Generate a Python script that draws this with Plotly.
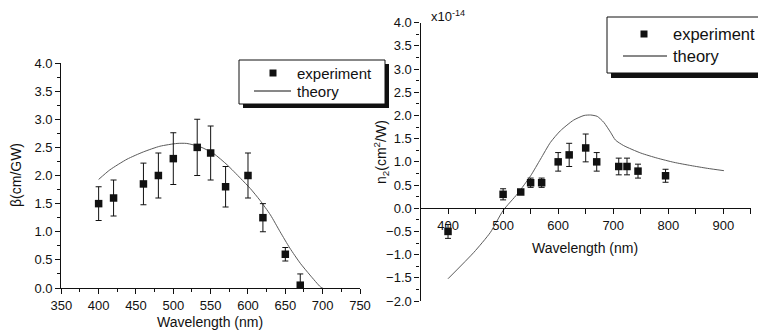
import plotly.graph_objects as go

# ---------------- data ----------------
# Left panel: nonlinear absorption beta (cm/GW)
beta_wl = [400, 420, 460, 480, 500, 532, 550, 570, 600, 620, 650, 670]
beta_val = [1.5, 1.6, 1.85, 2.0, 2.3, 2.5, 2.4, 1.8, 2.0, 1.25, 0.6, 0.05]
beta_err_plus = [0.3, 0.32, 0.37, 0.4, 0.46, 0.5, 0.48, 0.36, 0.4, 0.25, 0.12, 0.2]
beta_err_minus = [0.3, 0.32, 0.37, 0.4, 0.46, 0.5, 0.48, 0.36, 0.4, 0.25, 0.12, 0.05]

beta_th_wl = [400, 415, 438, 460, 482, 505, 518, 536, 554, 572, 590, 603, 616, 630, 643, 656, 670, 683, 697, 700]
beta_th_val = [1.93, 2.10, 2.29, 2.42, 2.52, 2.57, 2.57, 2.51, 2.39, 2.19, 1.95, 1.77, 1.56, 1.30, 1.0, 0.71, 0.44, 0.23, 0.02, 0.0]

# Right panel: nonlinear refraction n2 (x1e-14 cm^2/W)
n2_wl = [400, 500, 532, 550, 570, 600, 620, 650, 670, 710, 725, 745, 795]
n2_val = [-0.5, 0.3, 0.35, 0.55, 0.55, 1.0, 1.15, 1.3, 1.0, 0.9, 0.9, 0.8, 0.7]
n2_err = [0.15, 0.12, 0.05, 0.1, 0.1, 0.2, 0.25, 0.3, 0.2, 0.18, 0.18, 0.15, 0.14]

n2_th_wl = [400, 447, 477, 500, 526, 550, 568, 586, 604, 628, 647, 659, 671, 683, 695, 704, 719, 750, 780, 810, 841, 871, 901]
n2_th_val = [-1.52, -0.95, -0.52, -0.05, 0.31, 0.70, 1.06, 1.42, 1.67, 1.90, 2.0, 2.01, 1.98, 1.85, 1.64, 1.47, 1.35, 1.19, 1.08, 0.99, 0.92, 0.86, 0.81]

legend_labels = ["experiment", "theory"]

# ---------------- figure ----------------
PAGE_W, PAGE_H = 766, 330
OFF = 8                       # default body margin of the html page
W, H = PAGE_W - OFF, PAGE_H - OFF
FONT = "Liberation Sans, Arial, sans-serif"
INK = "#111111"


def px(x):
    """page pixel x -> paper fraction"""
    return (x - OFF) / W


def py(y):
    """page pixel y (from top) -> paper fraction"""
    return 1 - (y - OFF) / H


fig = go.Figure()

fig.add_trace(go.Scatter(
    x=beta_th_wl, y=beta_th_val, mode="lines",
    line=dict(color="#5a5a5a", width=1, shape="spline", smoothing=0.6),
    xaxis="x", yaxis="y", showlegend=False))
fig.add_trace(go.Scatter(
    x=beta_wl, y=beta_val, mode="markers",
    marker=dict(symbol="square", size=7.5, color=INK),
    error_y=dict(type="data", array=beta_err_plus, arrayminus=beta_err_minus,
                 color=INK, thickness=1, width=3),
    cliponaxis=False, xaxis="x", yaxis="y", showlegend=False))

fig.add_trace(go.Scatter(
    x=n2_th_wl, y=n2_th_val, mode="lines",
    line=dict(color="#5a5a5a", width=1, shape="spline", smoothing=0.6),
    xaxis="x2", yaxis="y2", showlegend=False))
fig.add_trace(go.Scatter(
    x=n2_wl, y=n2_val, mode="markers",
    marker=dict(symbol="square", size=7.5, color=INK),
    error_y=dict(type="data", array=n2_err, color=INK, thickness=1, width=3),
    cliponaxis=False, xaxis="x2", yaxis="y2", showlegend=False))

axis_common = dict(showgrid=False, zeroline=False, showline=True, linecolor=INK,
                   linewidth=1.3, ticks="outside", ticklen=5, tickwidth=1.2,
                   tickcolor=INK, automargin=False,
                   tickfont=dict(family=FONT, size=13, color=INK))

fig.update_layout(
    width=W, height=H,
    margin=dict(l=0, r=0, t=0, b=0, pad=0, autoexpand=False),
    paper_bgcolor="white", plot_bgcolor="white",
    font=dict(family=FONT, color=INK),
    xaxis=dict(domain=[px(61.3), px(360)], range=[350, 750], anchor="y",
               tickmode="linear", tick0=350, dtick=50,
               minor=dict(dtick=25, ticks="outside", ticklen=3, tickcolor=INK, showgrid=False),
               **axis_common),
    yaxis=dict(domain=[py(288), py(63)], range=[0, 4], anchor="x",
               tickmode="linear", tick0=0, dtick=0.5, tickformat=".1f",
               minor=dict(dtick=0.25, ticks="outside", ticklen=3, tickcolor=INK, showgrid=False),
               **axis_common),
    xaxis2=dict(domain=[px(420.5), px(750.9)], range=[350, 950], anchor="free",
                position=py(208.3),
                tickmode="array", tickvals=[400, 500, 600, 700, 800, 900],
                minor=dict(tickmode="array", tickvals=[450, 550, 650, 750, 850, 950],
                           ticks="outside", ticklen=5, tickcolor=INK, showgrid=False),
                **axis_common),
    yaxis2=dict(domain=[py(301), py(22.7)], range=[-2, 4], anchor="x2",
                tickmode="linear", tick0=-2, dtick=0.5, tickformat=".1f",
                minor=dict(dtick=0.25, ticks="outside", ticklen=3, tickcolor=INK, showgrid=False),
                **axis_common),
)

annotations = [
    # axis titles
    dict(text="Wavelength (nm)", x=px(210), y=py(322), font=dict(size=14)),
    dict(text="β(cm/GW)", x=px(16), y=py(175), textangle=-90, font=dict(size=14)),
    dict(text="Wavelength (nm)", x=px(585), y=py(248), font=dict(size=14)),
    dict(text="n<sub>2</sub>(cm<sup>2</sup>/W)", x=px(381), y=py(152), textangle=-90,
         font=dict(size=14)),
    dict(text="x10<sup>-14</sup>", x=px(429), y=py(16), xanchor="left", font=dict(size=13)),
    # left legend text
    dict(text=legend_labels[0], x=px(295), y=py(73), xanchor="left", font=dict(size=15)),
    dict(text=legend_labels[1], x=px(295), y=py(91), xanchor="left", font=dict(size=15)),
    # right legend text
    dict(text=legend_labels[0], x=px(671), y=py(34), xanchor="left", font=dict(size=16.5)),
    dict(text=legend_labels[1], x=px(671), y=py(56), xanchor="left", font=dict(size=16.5)),
]
for a in annotations:
    a.setdefault("xanchor", "center")
    a.update(xref="paper", yref="paper", showarrow=False, yanchor="middle")
    a["font"].update(family=FONT, color=INK)
fig.update_layout(annotations=annotations)


def rect(x0, y0, x1, y1, fill, line_w=0):
    return dict(type="rect", xref="paper", yref="paper",
                x0=px(x0), x1=px(x1), y0=py(y1), y1=py(y0),
                fillcolor=fill, line=dict(color=INK, width=line_w), layer="above")


def seg(x0, y0, x1, y1, w=1):
    return dict(type="line", xref="paper", yref="paper",
                x0=px(x0), x1=px(x1), y0=py(y0), y1=py(y1),
                line=dict(color=INK, width=w), layer="above")


shapes = [
    # left legend
    rect(243, 64, 389, 108, INK),
    rect(239, 60, 385, 104, "white", 1),
    rect(269.5, 69.5, 276.5, 76.5, INK),
    seg(254, 91, 291, 91),
    # right legend
    rect(611, 22, 780, 78, INK),
    rect(607, 17, 776, 73, "white", 1),
    rect(640.5, 30.5, 647.5, 37.5, INK),
    seg(623, 56, 667, 56),
]
fig.update_layout(shapes=shapes)

fig.write_html("out.html")
